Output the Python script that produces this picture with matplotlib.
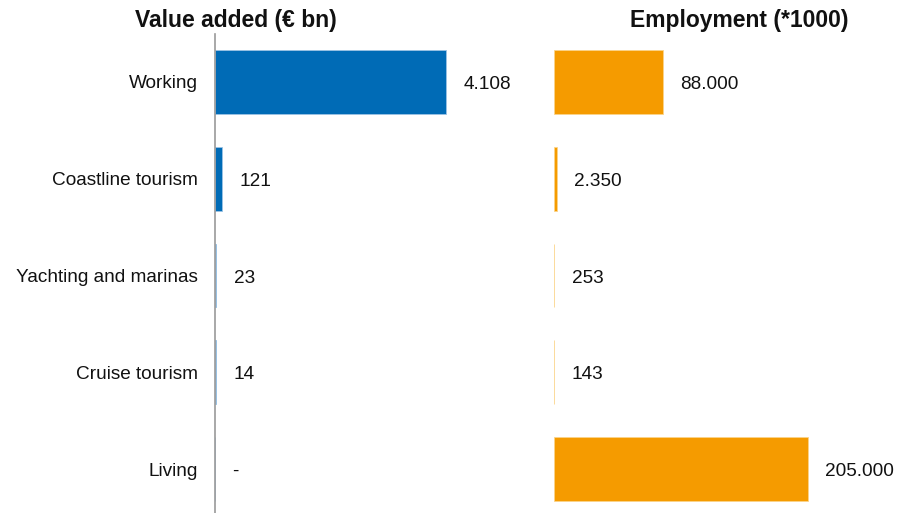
import matplotlib
matplotlib.use("Agg")
import matplotlib.pyplot as plt

categories = ["Working", "Coastline tourism", "Yachting and marinas", "Cruise tourism", "Living"]
value_added = [4108, 121, 23, 14, 0]          # € bn
employment = [88000, 2350, 253, 143, 205000]  # *1000

BLUE = "#006BB6"
ORANGE = "#F59B00"

plt.rcParams["font.family"] = ["Liberation Sans", "DejaVu Sans"]

W, H = 901, 513
fig = plt.figure(figsize=(W / 100, H / 100), dpi=100)


def px_axes(x0, x1, y_top, y_bot):
    # axes rectangle from pixel coordinates (origin top-left)
    return fig.add_axes([x0 / W, 1 - y_bot / H, (x1 - x0) / W, (y_bot - y_top) / H])


def fmt(v):
    if v == 0:
        return "-"
    return f"{v:,}".replace(",", ".")


row = 96.75
top = 82 - row / 2
bot = 469 + row / 2

ax1 = px_axes(215, 520, top, bot)
ax2 = px_axes(554, 901, top, bot)

ypos = list(range(len(categories)))

ax1.barh(ypos, value_added, height=0.66, color=BLUE, edgecolor="#9cc3e4", linewidth=0.6)
ax1.set_xlim(0, 4108 * (520 - 215) / 231)
ax2.barh(ypos, employment, height=0.66, color=ORANGE, edgecolor="#fbd48a", linewidth=0.6)
ax2.set_xlim(0, 205000 * (901 - 554) / 254)

for ax, vals in ((ax1, value_added), (ax2, employment)):
    ax.set_ylim(len(categories) - 0.5, -0.5)
    for s in ("top", "right", "bottom", "left"):
        ax.spines[s].set_visible(False)
    ax.set_xticks([])
    for y, v in zip(ypos, vals):
        ax.annotate(fmt(v), (v, y), xytext=(12.5, -0.5), textcoords="offset points",
                    ha="left", va="center_baseline", fontsize=13.7, color="#111111")

ax1.spines["left"].set_visible(True)
ax1.spines["left"].set_color("#9a9a9a")
ax1.spines["left"].set_linewidth(1.2)
ax1.set_yticks(ypos)
ax1.set_yticklabels(categories, fontsize=13.7, color="#111111")
ax1.tick_params(axis="y", length=0, pad=12)
ax2.set_yticks([])

fig.text(236 / W, 1 - 21 / H, "Value added (€ bn)", ha="center", va="center",
         fontsize=16.5, fontweight="bold", color="#111111")
fig.text(739 / W, 1 - 21 / H, "Employment (*1000)", ha="center", va="center",
         fontsize=16.5, fontweight="bold", color="#111111")

fig.savefig("out.png", dpi=100, facecolor="white")
